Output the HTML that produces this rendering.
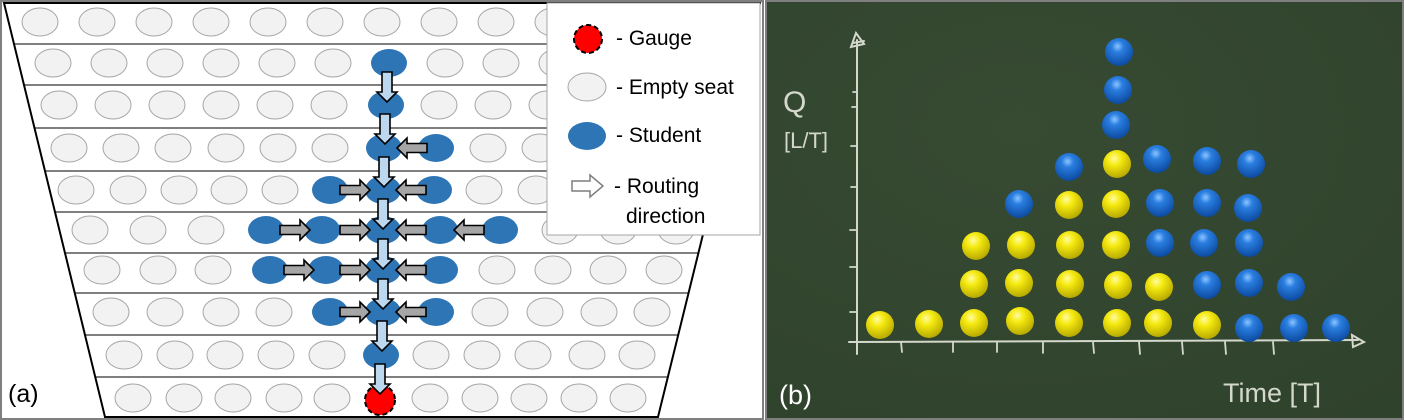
<!DOCTYPE html>
<html><head><meta charset="utf-8"><style>
html,body{margin:0;padding:0;background:#fff;}
svg{display:block;}
</style></head><body>
<svg width="1404" height="420" viewBox="0 0 1404 420" xmlns="http://www.w3.org/2000/svg">
<defs>
  <path id="va" d="M-5,0 H5 V20 H10 L0,30 L-10,20 H-5 Z" fill="#bdd7ee" stroke="#000" stroke-width="1.6"/>
  <path id="ha" d="M0,0 L10,-10 V-4.5 H30 V4.5 H10 V10 Z" fill="#a6a6a6" stroke="#000" stroke-width="1.6"/>
  <radialGradient id="yb" cx="0.4" cy="0.3" r="0.7">
    <stop offset="0" stop-color="#fffba0"/><stop offset="0.35" stop-color="#f5ea10"/><stop offset="1" stop-color="#b8aa00"/>
  </radialGradient>
  <radialGradient id="bb" cx="0.45" cy="0.3" r="0.7">
    <stop offset="0" stop-color="#8cc4ff"/><stop offset="0.3" stop-color="#2a7ee0"/><stop offset="1" stop-color="#0c4aa0"/>
  </radialGradient>
  <radialGradient id="bg" cx="0.4" cy="0.3" r="0.9">
    <stop offset="0" stop-color="#374a32"/><stop offset="1" stop-color="#2f422c"/>
  </radialGradient>
  <clipPath id="trap"><polygon points="4,3 760,3 658,417 105,417"/></clipPath>
</defs>

<rect x="0" y="0" width="764" height="420" fill="#fff"/>
<g clip-path="url(#trap)" fill="#f2f2f2" stroke="#a6a6a6" stroke-width="1">
  <g transform="translate(0,22)">
    <ellipse cx="40" rx="18" ry="14"/><ellipse cx="97" rx="18" ry="14"/><ellipse cx="154" rx="18" ry="14"/><ellipse cx="211" rx="18" ry="14"/><ellipse cx="268" rx="18" ry="14"/><ellipse cx="325" rx="18" ry="14"/><ellipse cx="382" rx="18" ry="14"/><ellipse cx="439" rx="18" ry="14"/><ellipse cx="496" rx="18" ry="14"/><ellipse cx="553" rx="18" ry="14"/><ellipse cx="610" rx="18" ry="14"/><ellipse cx="667" rx="18" ry="14"/><ellipse cx="724" rx="18" ry="14"/>
  </g>
  <g transform="translate(0,63)">
    <ellipse cx="53" rx="18" ry="14"/><ellipse cx="109" rx="18" ry="14"/><ellipse cx="165" rx="18" ry="14"/><ellipse cx="221" rx="18" ry="14"/><ellipse cx="277" rx="18" ry="14"/><ellipse cx="333" rx="18" ry="14"/><ellipse cx="445" rx="18" ry="14"/><ellipse cx="501" rx="18" ry="14"/><ellipse cx="557" rx="18" ry="14"/><ellipse cx="613" rx="18" ry="14"/><ellipse cx="669" rx="18" ry="14"/>
  </g>
  <g transform="translate(0,105)">
    <ellipse cx="59" rx="18" ry="14"/><ellipse cx="113" rx="18" ry="14"/><ellipse cx="167" rx="18" ry="14"/><ellipse cx="221" rx="18" ry="14"/><ellipse cx="275" rx="18" ry="14"/><ellipse cx="329" rx="18" ry="14"/><ellipse cx="439" rx="18" ry="14"/><ellipse cx="493" rx="18" ry="14"/><ellipse cx="547" rx="18" ry="14"/><ellipse cx="601" rx="18" ry="14"/><ellipse cx="655" rx="18" ry="14"/>
  </g>
  <g transform="translate(0,148)">
    <ellipse cx="69" rx="18" ry="14"/><ellipse cx="121" rx="18" ry="14"/><ellipse cx="173" rx="18" ry="14"/><ellipse cx="226" rx="18" ry="14"/><ellipse cx="278" rx="18" ry="14"/><ellipse cx="330" rx="18" ry="14"/><ellipse cx="488" rx="18" ry="14"/><ellipse cx="540" rx="18" ry="14"/><ellipse cx="592" rx="18" ry="14"/><ellipse cx="644" rx="18" ry="14"/><ellipse cx="696" rx="18" ry="14"/>
  </g>
  <g transform="translate(0,190)">
    <ellipse cx="76" rx="18" ry="14"/><ellipse cx="128" rx="18" ry="14"/><ellipse cx="179" rx="18" ry="14"/><ellipse cx="229" rx="18" ry="14"/><ellipse cx="280" rx="18" ry="14"/><ellipse cx="484" rx="18" ry="14"/><ellipse cx="536" rx="18" ry="14"/><ellipse cx="587" rx="18" ry="14"/><ellipse cx="638" rx="18" ry="14"/>
  </g>
  <g transform="translate(0,230)">
    <ellipse cx="90" rx="18" ry="14"/><ellipse cx="148" rx="18" ry="14"/><ellipse cx="206" rx="18" ry="14"/><ellipse cx="560" rx="18" ry="14"/><ellipse cx="618" rx="18" ry="14"/><ellipse cx="676" rx="18" ry="14"/>
  </g>
  <g transform="translate(0,270)">
    <ellipse cx="102" rx="18" ry="14"/><ellipse cx="158" rx="18" ry="14"/><ellipse cx="213" rx="18" ry="14"/><ellipse cx="497" rx="18" ry="14"/><ellipse cx="553" rx="18" ry="14"/><ellipse cx="608" rx="18" ry="14"/><ellipse cx="664" rx="18" ry="14"/>
  </g>
  <g transform="translate(0,312)">
    <ellipse cx="111" rx="18" ry="14"/><ellipse cx="165" rx="18" ry="14"/><ellipse cx="221" rx="18" ry="14"/><ellipse cx="274" rx="18" ry="14"/><ellipse cx="490" rx="18" ry="14"/><ellipse cx="545" rx="18" ry="14"/><ellipse cx="599" rx="18" ry="14"/><ellipse cx="652" rx="18" ry="14"/>
  </g>
  <g transform="translate(0,355)">
    <ellipse cx="124" rx="18" ry="14"/><ellipse cx="175" rx="18" ry="14"/><ellipse cx="225" rx="18" ry="14"/><ellipse cx="276" rx="18" ry="14"/><ellipse cx="327" rx="18" ry="14"/><ellipse cx="431" rx="18" ry="14"/><ellipse cx="482" rx="18" ry="14"/><ellipse cx="533" rx="18" ry="14"/><ellipse cx="587" rx="18" ry="14"/><ellipse cx="637" rx="18" ry="14"/>
  </g>
  <g transform="translate(0,398)">
    <ellipse cx="133" rx="18" ry="14"/><ellipse cx="184" rx="18" ry="14"/><ellipse cx="233" rx="18" ry="14"/><ellipse cx="284" rx="18" ry="14"/><ellipse cx="332" rx="18" ry="14"/><ellipse cx="430" rx="18" ry="14"/><ellipse cx="480" rx="18" ry="14"/><ellipse cx="529" rx="18" ry="14"/><ellipse cx="579" rx="18" ry="14"/><ellipse cx="628" rx="18" ry="14"/>
  </g>
  <g stroke="#555" stroke-width="1.5">
    <line x1="0" y1="44" x2="764" y2="44"/><line x1="0" y1="85" x2="764" y2="85"/><line x1="0" y1="128" x2="764" y2="128"/><line x1="0" y1="171" x2="764" y2="171"/><line x1="0" y1="212" x2="764" y2="212"/><line x1="0" y1="253" x2="764" y2="253"/><line x1="0" y1="293" x2="764" y2="293"/><line x1="0" y1="335" x2="764" y2="335"/><line x1="0" y1="377" x2="764" y2="377"/>
  </g>
</g>
<polygon points="4,3 760,3 658,417 105,417" fill="none" stroke="#000" stroke-width="2"/>

<g fill="#2e75b6">
  <ellipse cx="389" cy="63" rx="18" ry="14"/>
  <ellipse cx="386" cy="105" rx="18" ry="14"/>
  <ellipse cx="384" cy="148" rx="18" ry="14"/><ellipse cx="436" cy="148" rx="18" ry="14"/>
  <ellipse cx="330" cy="190" rx="18" ry="14"/><ellipse cx="383" cy="190" rx="18" ry="14"/><ellipse cx="434" cy="190" rx="18" ry="14"/>
  <ellipse cx="266" cy="230" rx="18" ry="14"/><ellipse cx="322" cy="230" rx="18" ry="14"/><ellipse cx="383" cy="230" rx="18" ry="14"/><ellipse cx="440" cy="230" rx="18" ry="14"/><ellipse cx="500" cy="230" rx="18" ry="14"/>
  <ellipse cx="270" cy="270" rx="18" ry="14"/><ellipse cx="326" cy="270" rx="18" ry="14"/><ellipse cx="383" cy="270" rx="18" ry="14"/><ellipse cx="440" cy="270" rx="18" ry="14"/>
  <ellipse cx="330" cy="312" rx="18" ry="14"/><ellipse cx="383" cy="312" rx="18" ry="14"/><ellipse cx="436" cy="312" rx="18" ry="14"/>
  <ellipse cx="381" cy="355" rx="18" ry="14"/>
</g>
<ellipse cx="380" cy="400" rx="15" ry="15" fill="#ff0000" stroke="#000" stroke-width="2" stroke-dasharray="5,3"/>

<use href="#va" x="387" y="72"/>
<use href="#va" x="385" y="114"/>
<use href="#va" x="384" y="157"/>
<use href="#va" x="383" y="199"/>
<use href="#va" x="383" y="239"/>
<use href="#va" x="383" y="279"/>
<use href="#va" x="382" y="321"/>
<use href="#va" x="380" y="364"/>

<use href="#ha" x="397" y="148"/>
<use href="#ha" x="396" y="190"/>
<use href="#ha" x="396" y="230"/>
<use href="#ha" x="454" y="230"/>
<use href="#ha" x="396" y="270"/>
<use href="#ha" x="396" y="312"/>
<use href="#ha" transform="translate(370,190) scale(-1,1)"/>
<use href="#ha" transform="translate(370,230) scale(-1,1)"/>
<use href="#ha" transform="translate(310,230) scale(-1,1)"/>
<use href="#ha" transform="translate(370,270) scale(-1,1)"/>
<use href="#ha" transform="translate(314,270) scale(-1,1)"/>
<use href="#ha" transform="translate(370,312) scale(-1,1)"/>

<rect x="547" y="3" width="213" height="232" fill="#fff" stroke="#a6a6a6" stroke-width="1"/>
<circle cx="588" cy="39" r="14" fill="#ff0000" stroke="#000" stroke-width="2" stroke-dasharray="5,3"/>
<ellipse cx="587" cy="87" rx="19" ry="14" fill="#f2f2f2" stroke="#a6a6a6"/>
<ellipse cx="587" cy="136" rx="19" ry="14" fill="#2e75b6"/>
<path d="M572,181 H590 V175 L603,186 L590,197 V191 H572 Z" fill="#fff" stroke="#7f7f7f" stroke-width="1.5"/>
<g font-family="Liberation Sans, sans-serif" font-size="21" fill="#000">
  <text x="616" y="45">- Gauge</text>
  <text x="616" y="94">- Empty seat</text>
  <text x="616" y="142">- Student</text>
  <text x="614" y="193">- Routing</text>
  <text x="626" y="223">direction</text>
</g>
<text x="8" y="402" font-family="Liberation Sans, sans-serif" font-size="25" fill="#000">(a)</text>

<rect x="1" y="1" width="762" height="418" fill="none" stroke="#7f7f7f" stroke-width="2"/>

<rect x="766" y="2" width="637" height="416" fill="url(#bg)"/>
<g stroke="#d4d8cc" stroke-width="2" fill="none" stroke-linecap="round">
  <line x1="857" y1="354" x2="857" y2="40"/>
  <path d="M851,47 L856,33 L864,44 Z M853,43 L864,41"/>
  <line x1="849" y1="342" x2="1358" y2="340"/>
  <path d="M1352,335 L1364,342 L1353,347 Z"/>
  <g stroke-width="1.8">
    <line x1="901" y1="342" x2="902" y2="352"/><line x1="953" y1="342" x2="953" y2="352"/><line x1="997" y1="342" x2="997" y2="352"/><line x1="1043" y1="342" x2="1043" y2="353"/><line x1="1093" y1="342" x2="1094" y2="353"/><line x1="1139" y1="342" x2="1140" y2="354"/><line x1="1182" y1="342" x2="1183" y2="354"/><line x1="1225" y1="342" x2="1226" y2="354"/><line x1="1273" y1="342" x2="1274" y2="354"/>
    <line x1="850" y1="312" x2="857" y2="312"/><line x1="850" y1="267" x2="857" y2="267"/><line x1="850" y1="230" x2="857" y2="230"/><line x1="851" y1="187" x2="857" y2="187"/><line x1="851" y1="146" x2="857" y2="146"/><line x1="852" y1="107" x2="857" y2="107"/><line x1="853" y1="92" x2="857" y2="92"/>
  </g>
</g>
<g font-family="Liberation Sans, sans-serif" fill="#d4d8cc">
  <text x="783" y="112" font-size="30">Q</text>
  <text x="784" y="148" font-size="22">[L/T]</text>
  <text x="1223" y="402" font-size="27">Time [T]</text>
</g>
<text x="779" y="404" font-family="Liberation Sans, sans-serif" font-size="27" fill="#fff">(b)</text>

<g fill="url(#yb)">
  <circle cx="880" cy="325" r="14"/><circle cx="929" cy="324" r="14"/>
  <circle cx="974" cy="323" r="14"/><circle cx="974" cy="284" r="14"/><circle cx="976" cy="246" r="14"/>
  <circle cx="1020" cy="321" r="14"/><circle cx="1019" cy="283" r="14"/><circle cx="1021" cy="245" r="14"/>
  <circle cx="1069" cy="323" r="14"/><circle cx="1070" cy="284" r="14"/><circle cx="1070" cy="245" r="14"/><circle cx="1069" cy="205" r="14"/>
  <circle cx="1117" cy="323" r="14"/><circle cx="1118" cy="285" r="14"/><circle cx="1116" cy="245" r="14"/><circle cx="1116" cy="204" r="14"/><circle cx="1117" cy="164" r="14"/>
  <circle cx="1158" cy="323" r="14"/><circle cx="1159" cy="287" r="14"/>
  <circle cx="1207" cy="325" r="14"/>
</g>
<g fill="url(#bb)">
  <circle cx="1019" cy="204" r="14"/>
  <circle cx="1069" cy="167" r="14"/>
  <circle cx="1116" cy="125" r="14"/><circle cx="1118" cy="90" r="14"/><circle cx="1119" cy="52" r="14"/>
  <circle cx="1160" cy="243" r="14"/><circle cx="1160" cy="203" r="14"/><circle cx="1157" cy="159" r="14"/>
  <circle cx="1207" cy="285" r="14"/><circle cx="1204" cy="243" r="14"/><circle cx="1207" cy="203" r="14"/><circle cx="1207" cy="161" r="14"/>
  <circle cx="1249" cy="328" r="14"/><circle cx="1249" cy="283" r="14"/><circle cx="1249" cy="243" r="14"/><circle cx="1248" cy="208" r="14"/><circle cx="1251" cy="164" r="14"/>
  <circle cx="1294" cy="328" r="14"/><circle cx="1291" cy="287" r="14"/>
  <circle cx="1336" cy="328" r="14"/>
</g>
<rect x="766" y="1" width="637" height="418" fill="none" stroke="#7f7f7f" stroke-width="2"/>
</svg>
</body></html>
